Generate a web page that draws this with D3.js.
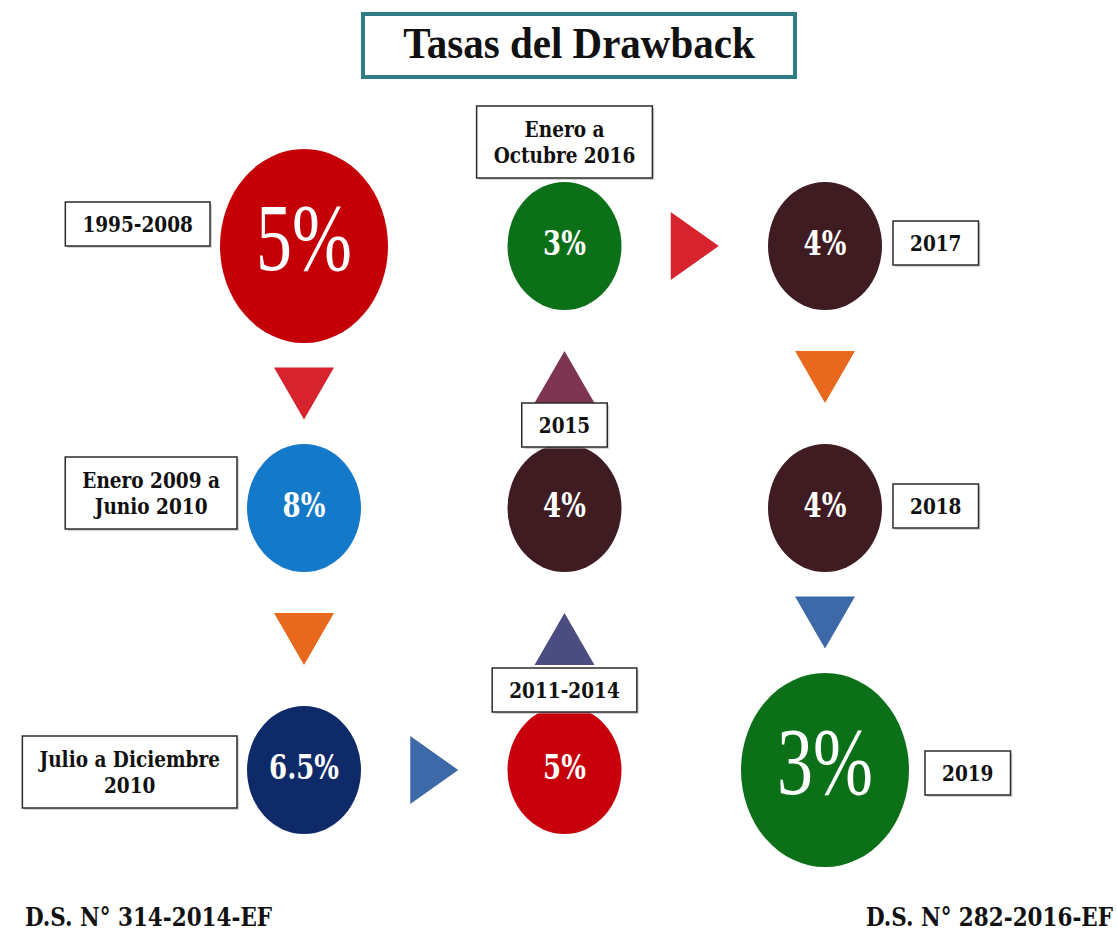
<!DOCTYPE html>
<html>
<head>
<meta charset="utf-8">
<script src="https://cdn.jsdelivr.net/npm/d3@7"></script>
<style>
  body { margin: 0; background: #fff; }
  svg { display: block; }
</style>
</head>
<body>
<svg id="chart" width="1117" height="933"></svg>
<script>
// chart data
var title = "Tasas del Drawback";
var periodLines = [
    ["1995-2008"],
    ["Enero 2009 a", "Junio 2010"],
    ["Julio a Diciembre", "2010"],
    ["2011-2014"],
    ["2015"],
    ["Enero a", "Octubre 2016"],
    ["2017"],
    ["2018"],
    ["2019"]
];
var rates = ["5%", "8%", "6.5%", "5%", "4%", "3%", "4%", "4%", "3%"];
var decrees = ["D.S. N° 314-2014-EF", "D.S. N° 282-2016-EF"];

// grid cell of each period (column, row) and where its label sits
var nodeCol = [0, 0, 0, 1, 1, 1, 2, 2, 2];
var nodeRow = [0, 1, 2, 2, 1, 0, 0, 1, 2];
var labelSide = ["left", "left", "left", "top", "top", "top", "right", "right", "right"];
var labelShift = [-22, -15, 2, 3, 0, -7, -3, -2, 3];

// colours
var nodeColors = ["#c40006", "#1479c9", "#0e2a68", "#c8000c", "#3f1b22", "#0b7018", "#3f1b22", "#3f1b22", "#0b7018"];
var arrowColors = ["#d7232e", "#e8691d", "#3d69a8", "#4b4d80", "#7d3551", "#d7232e", "#e8691d", "#3d69a8"];

var svg = d3.select("#chart");
var labelFont = "'DejaVu Serif', Georgia, serif";

var xScale = d3.scalePoint().domain([0, 1, 2]).range([304, 825]);
var yScale = d3.scalePoint().domain([0, 1, 2]).range([246, 770]);

var nodes = rates.map(function(r, i) {
    let big = (i === 0 || i === rates.length - 1);
    return {
        rate: r,
        lines: periodLines[i],
        cx: xScale(nodeCol[i]),
        cy: yScale(nodeRow[i]),
        rx: big ? 84 : 57,
        ry: big ? 97 : 64,
        big: big,
        color: nodeColors[i],
        side: labelSide[i],
        shift: labelShift[i]
    };
});

// title box
svg.append("rect")
    .attr("x", 363).attr("y", 14)
    .attr("width", 432).attr("height", 63)
    .attr("fill", "#fff")
    .attr("stroke", "#2f7c85")
    .attr("stroke-width", 4);
svg.append("text")
    .attr("transform", "translate(579,58) scale(1,1.08)")
    .attr("text-anchor", "middle")
    .style("font-family", "'Liberation Serif', 'Times New Roman', serif")
    .style("font-weight", "bold")
    .style("font-size", "41px")
    .style("fill", "#111")
    .text(title);

// arrows between consecutive periods
for (var i = 0; i < nodes.length - 1; i++) {
    let a = nodes[i], b = nodes[i + 1];
    let pts;
    if (a.cx === b.cx) {
        let s = b.cy > a.cy ? 1 : -1;
        let m = ((a.cy + s * a.ry) + (b.cy - s * b.ry)) / 2;
        let half = 26 * s;
        pts = [[a.cx - 30, m - half], [a.cx + 30, m - half], [a.cx, m + half]];
    } else {
        let s = b.cx > a.cx ? 1 : -1;
        let m = ((a.cx + s * a.rx) + (b.cx - s * b.rx)) / 2;
        let half = 24 * s;
        pts = [[m - half, a.cy - 34], [m - half, a.cy + 34], [m + half, a.cy]];
    }
    svg.append("path")
        .attr("d", d3.line()(pts) + "Z")
        .attr("fill", arrowColors[i]);
}

// period bubbles
nodes.forEach(function(d) {
    svg.append("ellipse")
        .attr("cx", d.cx).attr("cy", d.cy)
        .attr("rx", d.rx).attr("ry", d.ry)
        .attr("fill", d.color);
    let t = svg.append("g")
        .attr("transform", "translate(" + d.cx + "," + d.cy + ") scale(1,1.32)");
    t.append("text")
        .attr("text-anchor", "middle")
        .attr("y", d.big ? 18 : 7)
        .style("font-family", d.big ? "'Liberation Serif', 'Times New Roman', serif" : labelFont)
        .style("font-weight", d.big ? "normal" : "bold")
        .style("font-size", d.big ? "72px" : "26px")
        .style("fill", "#fff")
        .text(d.rate);
});

// period label boxes
nodes.forEach(function(d) {
    let g = svg.append("g");
    let txt = g.append("text")
        .attr("text-anchor", "middle")
        .style("font-family", labelFont)
        .style("font-weight", "bold")
        .style("font-size", "18.5px")
        .style("fill", "#111");
    d.lines.forEach(function(line, k) {
        txt.append("tspan").attr("x", 0).attr("y", k * 22).text(line);
    });
    let w = d3.max(txt.selectAll("tspan").nodes(), function(n) { return n.getComputedTextLength(); }) + 34;
    let h = d.lines.length > 1 ? 72 : 44;

    let bx, by;
    if (d.side === "left") {
        bx = d.cx - d.rx - 10 - w;
        by = d.cy + d.shift - h / 2;
    } else if (d.side === "right") {
        bx = d.cx + d.rx + (d.big ? 16 : 11);
        by = d.cy + d.shift - h / 2;
    } else {
        bx = d.cx - w / 2;
        by = d.cy - d.ry + 3 - h + d.shift;
    }
    g.insert("rect", "text")
        .attr("x", bx + 2).attr("y", by + 2)
        .attr("width", w).attr("height", h)
        .attr("fill", "#aaa").attr("opacity", 0.5);
    g.insert("rect", "text")
        .attr("x", bx).attr("y", by)
        .attr("width", w).attr("height", h)
        .attr("fill", "#fff")
        .attr("stroke", "#2b2b2b")
        .attr("stroke-width", 1.5);
    let firstBase = by + h / 2 + 8 - (d.lines.length - 1) * 13;
    txt.attr("transform", "translate(" + (bx + w / 2) + "," + firstBase + ") scale(1,1.18)");
});

// decree footers
svg.append("text")
    .attr("transform", "translate(25,926) scale(1,1.2)")
    .style("font-family", labelFont)
    .style("font-weight", "bold")
    .style("font-size", "21.5px")
    .style("fill", "#111")
    .text(decrees[0]);
svg.append("text")
    .attr("transform", "translate(1113,926) scale(1,1.2)")
    .attr("text-anchor", "end")
    .style("font-family", labelFont)
    .style("font-weight", "bold")
    .style("font-size", "21.5px")
    .style("fill", "#111")
    .text(decrees[1]);
</script>
</body>
</html>
